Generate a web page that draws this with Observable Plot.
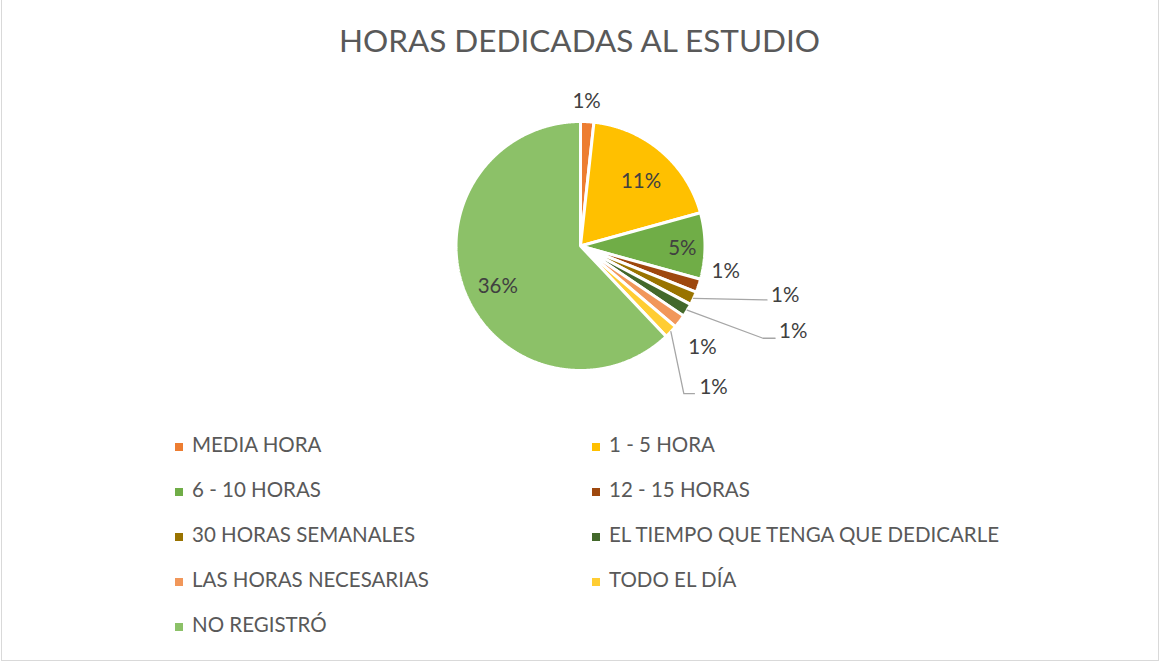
<!DOCTYPE html>
<html>
<head>
<meta charset="utf-8">
<script src="https://cdn.jsdelivr.net/npm/d3@7"></script>
<script src="https://cdn.jsdelivr.net/npm/@observablehq/plot@0.6"></script>
<style>
  html, body { margin: 0; padding: 0; background: #fff; }
  body { width: 1159px; height: 662px; position: relative; overflow: hidden; font-family: Lato, "Open Sans", sans-serif; }
  #frame { position: absolute; left: 1px; top: -1px; width: 1158px; height: 662px; box-sizing: border-box; border: 1px solid #d9d9d9; pointer-events: none; }
  #title { position: absolute; left: 0; top: 15px; width: 1159px; height: 50px; line-height: 50px; text-align: center; font-size: 31.5px; color: #595959; white-space: nowrap; }
  #chart { position: absolute; left: 0; top: 80px; }
  #legend { position: absolute; left: 0; top: 422px; width: 1159px; }
  .row { position: absolute; height: 45px; line-height: 45px; display: flex; align-items: center; font-size: 20.5px; color: #595959; white-space: nowrap; }
  .sw { width: 8px; height: 8px; margin-right: 9px; margin-top: 4px; flex: none; }
</style>
</head>
<body>
<div id="frame"></div>
<div id="title">HORAS DEDICADAS AL ESTUDIO</div>
<div id="chart"></div>
<div id="legend"></div>
<script>
// ---- data ----
const categories = ["MEDIA HORA", "1 - 5 HORA", "6 - 10 HORAS", "12 - 15 HORAS", "30 HORAS SEMANALES", "EL TIEMPO QUE TENGA QUE DEDICARLE", "LAS HORAS NECESARIAS", "TODO EL DÍA", "NO REGISTRÓ"];
const values = [1, 11, 5, 1, 1, 1, 1, 1, 36];
const valueLabels = ["1%", "11%", "5%", "1%", "1%", "1%", "1%", "1%", "36%"];
const colors = ["#ED7D31", "#FFC000", "#70AD47", "#9E480E", "#997300", "#43682B", "#F1975A", "#FFCD33", "#8CC168"];

// ---- layout (label placement in pie-radius units, x right / y up) ----
const labelAt = [[0.049, 1.162], [0.486, 0.522], [0.818, -0.020], [1.166, -0.206], [1.644, -0.401], [1.709, -0.684], [0.980, -0.814], [1.069, -1.138], [-0.664, -0.328]];
const leaderVia = { 4: [[1.498, -0.433]], 5: [[1.466, -0.741], [1.563, -0.741]], 7: [[0.830, -1.186], [0.915, -1.186]] };

const cx = 580, cy = 165.5, R = 124.5;
const W = 1159, H = 340;

const arcs = d3.pie().sort(null).value(d => d)(values);
const slicePts = [];
arcs.forEach((a, i) => {
  const cat = categories[i];
  slicePts.push({cat, x: 0, y: 0});
  const n = Math.max(4, Math.ceil((a.endAngle - a.startAngle) / 0.005));
  for (let k = 0; k <= n; k++) {
    const t = a.startAngle + (a.endAngle - a.startAngle) * k / n;
    slicePts.push({cat, x: Math.sin(t), y: Math.cos(t)});
  }
});

const leaderPts = [];
Object.entries(leaderVia).forEach(([i, pts]) => {
  const a = arcs[+i];
  const m = (a.startAngle + a.endAngle) / 2;
  const cat = categories[+i];
  leaderPts.push({cat, x: Math.sin(m) * 1.0, y: Math.cos(m) * 1.0});
  pts.forEach(p => leaderPts.push({cat, x: p[0], y: p[1]}));
});

const labelData = categories.map((c, i) => ({cat: c, label: valueLabels[i], x: labelAt[i][0], y: labelAt[i][1]}));

const plot = Plot.plot({
  width: W, height: H, margin: 0,
  x: {type: "linear", domain: [-1, 1], range: [cx - R, cx + R], axis: null},
  y: {type: "linear", domain: [-1, 1], range: [cy + R, cy - R], axis: null},
  color: {domain: categories, range: colors},
  style: {fontFamily: "Lato, 'Open Sans', sans-serif", background: "transparent", overflow: "visible"},
  marks: [
    Plot.line(slicePts, {x: "x", y: "y", z: "cat", fill: "cat", stroke: "white", strokeWidth: 3, strokeLinejoin: "miter", curve: "linear-closed"}),
    Plot.line(leaderPts, {x: "x", y: "y", z: "cat", stroke: "#a6a6a6", strokeWidth: 1.3}),
    Plot.text(labelData, {x: "x", y: "y", text: "label", fill: "#404040", fontSize: 20.5})
  ]
});
document.getElementById("chart").appendChild(plot);

// ---- legend ----
const legend = document.getElementById("legend");
categories.forEach((c, i) => {
  const row = document.createElement("div");
  row.className = "row";
  row.style.left = (i % 2 === 0 ? 175 : 592) + "px";
  row.style.top = (Math.floor(i / 2) * 45) + "px";
  const sw = document.createElement("span");
  sw.className = "sw";
  sw.style.background = colors[i];
  const tx = document.createElement("span");
  tx.textContent = c;
  row.appendChild(sw);
  row.appendChild(tx);
  legend.appendChild(row);
});
</script>
</body>
</html>
